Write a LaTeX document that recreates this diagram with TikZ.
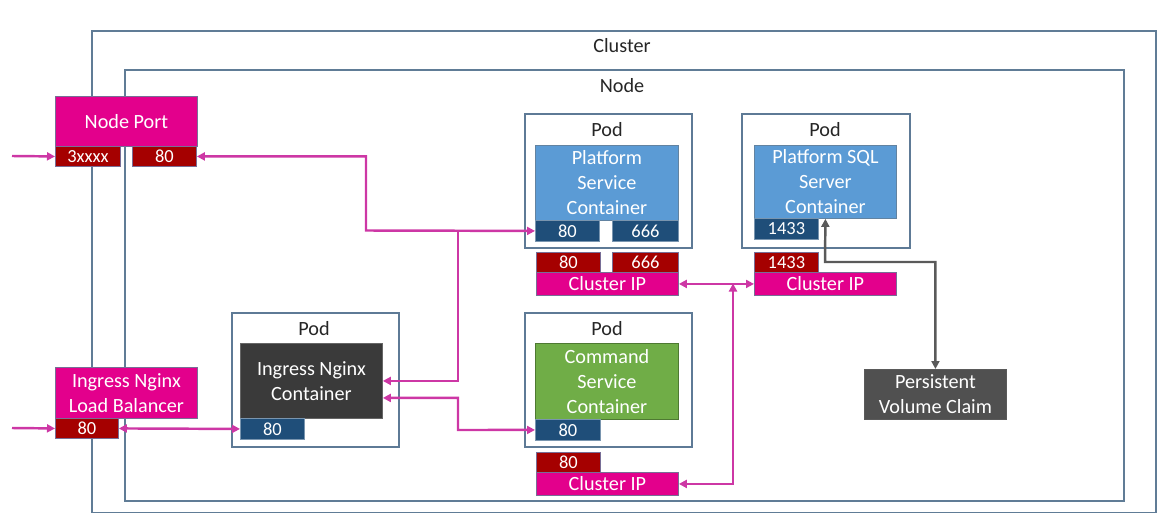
\documentclass[tikz,border=0pt]{standalone}
\usepackage{fontspec}
\setmainfont{Carlito}
\usetikzlibrary{arrows.meta}

\definecolor{framec}{RGB}{96,124,150}
\definecolor{podc}{RGB}{94,122,150}
\definecolor{magentac}{RGB}{227,0,140}
\definecolor{portred}{RGB}{165,0,0}
\definecolor{portblue}{RGB}{31,78,121}
\definecolor{svcblue}{RGB}{91,155,213}
\definecolor{svcgreen}{RGB}{112,173,71}
\definecolor{nginxc}{RGB}{58,58,58}
\definecolor{pvcc}{RGB}{80,80,80}
\definecolor{edgec}{RGB}{120,110,150}
\definecolor{linkc}{RGB}{205,55,165}
\definecolor{storec}{RGB}{90,90,90}

\begin{document}
\begin{tikzpicture}[x=0.02cm,y=-0.02cm]
\tikzstyle{every node}+=[inner sep=0pt]
\tikzstyle{box}=[anchor=north west, align=center, text=white, font=\fontsize{11.5}{14.2}\selectfont]
\tikzstyle{lbl}=[text=black!85, font=\fontsize{11.5}{14.2}\selectfont]
\tikzstyle{frame}=[anchor=north west, draw=framec, line width=1pt]
\tikzstyle{pod}=[anchor=north west, draw=podc, line width=1pt, minimum width=3.34cm, minimum height=2.68cm]
\tikzstyle{svc}=[box, fill=magentac, draw=edgec, line width=0.5pt, minimum width=2.84cm]
\tikzstyle{container}=[box, draw=portblue!70, line width=0.5pt, minimum width=2.86cm, minimum height=1.5cm]
\tikzstyle{port}=[box, draw=edgec, line width=0.5pt, minimum height=0.4cm, font=\fontsize{10.5}{12}\selectfont]
\tikzstyle{sport}=[port, fill=portred]
\tikzstyle{cport}=[port, fill=portblue, draw=portblue!60, minimum height=0.42cm]
\tikzstyle{link}=[draw=linkc, line width=1.4pt, {Triangle[length=1.6mm,width=1.6mm]}-{Triangle[length=1.6mm,width=1.6mm]}]
\tikzstyle{inlink}=[draw=linkc, line width=1.4pt, -{Triangle[length=1.6mm,width=1.6mm]}]
\tikzstyle{store}=[draw=storec, line width=1.4pt, {Triangle[length=1.6mm,width=1.6mm]}-{Triangle[length=1.6mm,width=1.6mm]}]

\useasboundingbox (0,0) rectangle (1165,513);

\node[frame, minimum width=21.28cm, minimum height=9.64cm] (cluster) at (91,30) {};
\node[lbl] (clusterlbl) at (622,46) {Cluster};
\node[frame, minimum width=19.98cm, minimum height=8.62cm] (node) at (124,69) {};
\node[lbl] (nodelbl) at (622,86) {Node};

\node[svc, minimum height=1cm] (np) at (55,96) {Node Port};
\node[sport, minimum width=1.3cm] (np3) at (55,146) {3xxxx};
\node[sport, minimum width=1.28cm] (np80) at (132,146) {80};

\node[svc, minimum height=1.02cm] (lb) at (55,367) {Ingress Nginx\\Load Balancer};
\node[sport, minimum width=1.26cm] (lb80) at (55,418) {80};

\node[pod] (igpod) at (231,312) {};
\node[lbl] (igpodlbl) at (314,329) {Pod};
\node[container, fill=nginxc, draw=black!60, minimum width=2.84cm] (igc) at (240,343) {Ingress Nginx\\Container};
\node[cport, minimum width=1.28cm] (ig80) at (240,418) {80};

\node[pod] (pfpod) at (524,113) {};
\node[lbl] (pfpodlbl) at (607,130) {Pod};
\node[container, fill=svcblue] (pfc) at (535,145) {Platform\\Service\\Container};
\node[cport, minimum width=1.28cm] (pf80) at (535,220) {80};
\node[cport, minimum width=1.32cm] (pf666) at (612,220) {666};
\node[sport, minimum width=1.28cm] (pfip80) at (536,252) {80};
\node[sport, minimum width=1.32cm] (pfip666) at (612,252) {666};
\node[svc, minimum height=0.46cm] (pfip) at (536,272) {Cluster IP};

\node[pod, minimum width=3.36cm] (sqpod) at (741,113) {};
\node[lbl] (sqpodlbl) at (825,130) {Pod};
\node[container, fill=svcblue, minimum width=2.84cm, minimum height=1.46cm] (sqc) at (754,145) {Platform SQL\\Server\\Container};
\node[cport, minimum width=1.28cm] (sq1433) at (754,218) {1433};
\node[sport, minimum width=1.28cm] (sqip1433) at (754,252) {1433};
\node[svc, minimum height=0.46cm] (sqip) at (754,272) {Cluster IP};

\node[pod] (cmpod) at (524,312) {};
\node[lbl] (cmpodlbl) at (607,329) {Pod};
\node[container, fill=svcgreen, draw=svcgreen!70!black, minimum height=1.52cm] (cmc) at (535,343) {Command\\Service\\Container};
\node[cport, minimum width=1.3cm] (cm80) at (535,419) {80};
\node[sport, minimum width=1.28cm] (cmip80) at (536,452) {80};
\node[svc, minimum height=0.46cm] (cmip) at (536,472) {Cluster IP};

\node[box, fill=pvcc, draw=storec, line width=0.5pt, minimum width=2.84cm, minimum height=1cm] (pvc) at (864,369) {Persistent\\Volume Claim};

\coordinate (in1) at (12,156);
\coordinate (in2) at (12,428);
\coordinate (bend1) at (366,230.5);
\coordinate (split1) at (458,230.5);
\coordinate (bend2) at (458,430);
\coordinate (split2) at (733,283.5);
\coordinate (bend3) at (825,262);

\draw[inlink] (in1) -- (np3.west);
\draw[inlink] (in2) -- (lb80.west);
\draw[link] (lb80.east) -- (ig80.west);
\draw[link] (np80.east) -| (bend1) -- (pf80.west);
\draw[inlink] (split1) |- (igc.east);
\draw[link] ([yshift=-0.34cm]igc.east) -| (bend2) -- (cm80.west);
\draw[link] (pfip.east) -- (sqip.west);
\draw[link] (cmip.east) -| (split2);
\draw[store] (sqc.south) -- (bend3) -| (pvc.north);
\end{tikzpicture}
\end{document}
